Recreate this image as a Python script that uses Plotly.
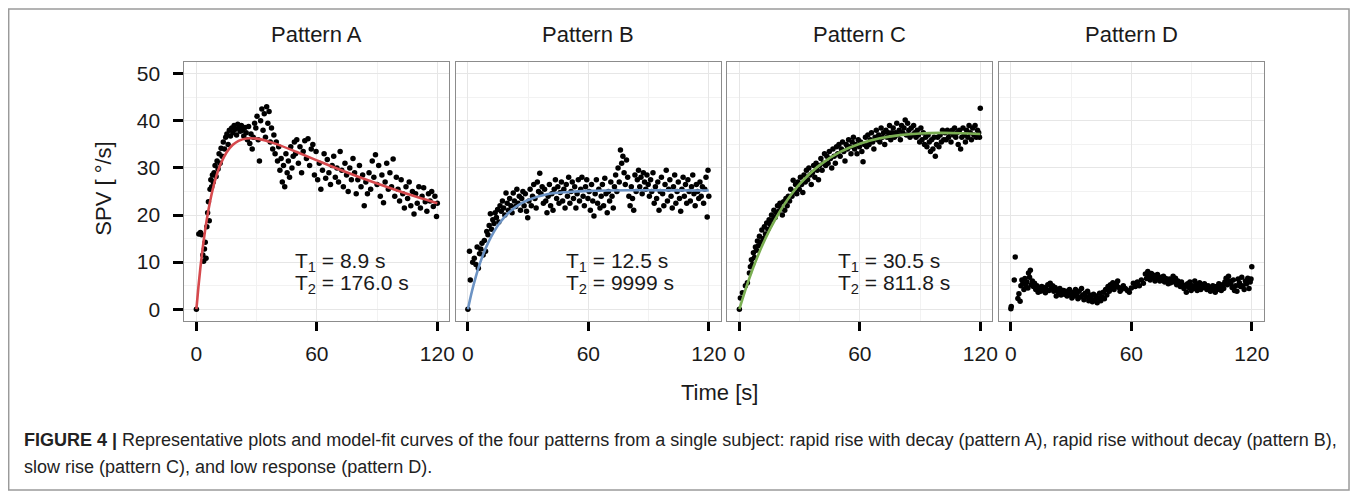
import plotly.graph_objects as go

# page is offset by the browser's default 8px body margin
OFF = 8
W, H = 1358 - OFF, 492 - OFF

panel_titles = ["Pattern A", "Pattern B", "Pattern C", "Pattern D"]
t1_labels = ["T<sub>1</sub> = 8.9 s", "T<sub>1</sub> = 12.5 s", "T<sub>1</sub> = 30.5 s", None]
t2_labels = ["T<sub>2</sub> = 176.0 s", "T<sub>2</sub> = 9999 s", "T<sub>2</sub> = 811.8 s", None]
x_ticks = [0, 60, 120]
y_ticks = [0, 10, 20, 30, 40, 50]
fit_colors = ["#d6494d", "#6c93c4", "#7aae52", None]

# ---------------- Pattern A ----------------
a_t = [0, 1.2, 2.0, 2.6, 3.2, 3.6, 4.0, 4.4, 4.8, 5.2, 5.6, 6.0, 6.4, 6.8, 7.2, 7.6, 8.0, 8.4, 8.8, 9.3,
       9.8, 10.3, 10.8, 11.3, 11.8, 12.3, 12.8, 13.4, 14.0, 14.6, 15.2, 15.8, 16.4, 17.0, 17.6, 18.2, 18.8,
       19.4, 20.0, 20.6, 21.2, 21.8, 22.4, 23.0, 23.6, 24.2, 24.8, 25.4, 26.0, 26.6, 27.2, 27.8, 28.4, 29.0,
       29.6, 30.2, 30.8, 31.4, 32.0, 32.6, 33.2, 33.8, 34.4, 35.0, 35.6, 36.2, 36.8, 37.4, 38.0, 38.6, 39.2,
       39.8, 40.4, 41.0, 41.6, 42.2, 42.8, 43.4, 44.0, 44.6, 45.2, 45.8, 46.4, 47.0, 47.6, 48.2, 48.8, 49.4,
       50.0, 50.8, 51.6, 52.4, 53.2, 54.0, 54.8, 55.6, 56.4, 57.2, 58.0, 58.8, 59.6, 60.4, 61.2, 62.0, 62.8,
       63.6, 64.4, 65.2, 66.0, 66.8, 67.6, 68.4, 69.2, 70.0, 70.8, 71.6, 72.4, 73.2, 74.0, 74.8, 75.6, 76.4,
       77.2, 78.0, 78.8, 79.6, 80.4, 81.2, 82.0, 82.8, 83.6, 84.4, 85.2, 86.0, 86.8, 87.6, 88.4, 89.2, 90.0,
       90.8, 91.6, 92.4, 93.2, 94.0, 94.8, 95.6, 96.4, 97.2, 98.0, 98.8, 99.6, 100.4, 101.2, 102.0, 102.8,
       103.6, 104.4, 105.2, 106.0, 106.8, 107.6, 108.4, 109.2, 110.0, 110.8, 111.6, 112.4, 113.2, 114.0,
       114.8, 115.6, 116.4, 117.2, 118.0, 118.8, 119.6, 120.0]
a_v = [0, 16.0, 16.3, 15.8, 11.5, 10.2, 12.8, 14.2, 10.8, 17.5, 20.5, 22.8, 18.8, 25.5, 27.5, 26.0, 28.5, 27.0,
       29.0, 30.5, 28.2, 31.5, 29.8, 33.0, 31.0, 34.2, 32.5, 35.5, 34.0, 36.5, 37.2, 35.0, 38.0, 36.8, 38.5,
       37.5, 39.0, 38.2, 37.0, 39.3, 38.5, 37.8, 39.0, 38.0, 36.8, 38.6, 37.5, 36.0, 38.8, 35.2, 37.2, 34.0,
       36.5, 39.5, 38.5, 41.0, 36.0, 31.5, 40.0, 42.5, 38.0, 41.5, 36.5, 43.0, 39.5, 42.0, 35.5, 38.5, 34.0,
       37.0, 33.0, 35.5, 31.5, 34.5, 29.5, 32.0, 27.0, 30.5, 26.0, 33.0, 29.0, 31.5, 28.0, 34.5, 30.0, 32.5,
       35.5, 33.0, 36.0, 31.0, 34.5, 29.0, 33.5, 35.8, 32.0, 36.2, 30.5, 34.0, 35.0, 28.5, 33.5, 27.5, 31.0,
       25.5, 29.5, 33.0, 27.8, 31.8, 29.0, 26.5, 30.5, 32.5, 28.0, 30.0, 27.0, 33.5, 29.5, 26.0, 31.0, 28.5,
       25.0, 30.0, 27.5, 32.0, 29.0, 24.5, 27.5, 30.5, 26.0, 28.5, 22.0, 27.0, 24.5, 29.0, 25.5, 31.5, 28.0,
       32.8, 26.5, 30.5, 24.0, 28.5, 22.6, 27.0, 31.0, 25.5, 29.0, 26.0, 31.9, 24.0, 28.0, 25.5, 23.0, 27.5,
       24.5, 21.5, 26.0, 23.5, 27.0, 22.0, 25.0, 20.2, 24.5, 22.5, 26.0, 21.5, 24.0, 25.8, 22.8, 20.8, 24.5,
       23.0, 25.0, 21.8, 24.0, 19.7, 22.5]
a_fit_t = [0, 1, 2, 3, 4, 5, 6, 8, 10, 12, 15, 18, 21, 25, 30, 35, 40, 50, 60, 70, 80, 90, 100, 110, 120]
a_fit_v = [0, 4.70, 8.85, 12.52, 15.75, 18.59, 21.09, 25.22, 28.37, 30.77, 33.29, 34.86, 35.76, 36.27, 36.23,
           35.75, 35.06, 33.37, 31.61, 29.88, 28.24, 26.69, 25.21, 23.82, 22.50]

# ---------------- Pattern B ----------------
b_t = [0, 0.8, 1.2, 2.4, 3.2, 4.0, 4.6, 5.2, 5.8, 6.4, 7.0, 7.6, 8.2, 8.8, 9.4, 10.0, 10.6, 11.2, 11.8, 12.4,
       13.0, 13.6, 14.2, 14.8, 15.4, 16.0, 16.6, 17.2, 17.8, 18.4, 19.0, 19.6, 20.2, 20.8, 21.4, 22.0, 22.6,
       23.2, 23.8, 24.4, 25.0, 25.6, 26.2, 26.8, 27.4, 28.0, 28.6, 29.2, 29.8, 30.4, 31.0, 31.6, 32.2, 32.8,
       33.4, 34.0, 34.6, 35.2, 35.8, 36.4, 37.0, 37.6, 38.2, 38.8, 39.4, 40.0, 40.6, 41.2, 41.8, 42.4, 43.0,
       43.6, 44.2, 44.8, 45.4, 46.0, 46.6, 47.2, 47.8, 48.4, 49.0, 49.6, 50.2, 50.8, 51.4, 52.0, 52.6, 53.2,
       53.8, 54.4, 55.0, 55.6, 56.2, 56.8, 57.4, 58.0, 58.6, 59.2, 59.8, 60.4, 61.0, 61.6, 62.2, 62.8, 63.4,
       64.0, 64.6, 65.2, 65.8, 66.4, 67.0, 67.6, 68.2, 68.8, 69.4, 70.0, 70.6, 71.2, 71.8, 72.4, 73.0, 73.6,
       74.2, 74.8, 75.4, 76.0, 76.6, 77.2, 77.8, 78.4, 79.0, 79.6, 80.2, 80.8, 81.4, 82.0, 82.6, 83.2, 83.8,
       84.4, 85.0, 85.6, 86.2, 86.8, 87.4, 88.0, 88.6, 89.2, 89.8, 90.4, 91.0, 91.6, 92.2, 92.8, 93.4, 94.0,
       94.6, 95.2, 95.8, 96.4, 97.0, 97.6, 98.2, 98.8, 99.4, 100.0, 100.6, 101.2, 101.8, 102.4, 103.0, 103.6,
       104.2, 104.8, 105.4, 106.0, 106.6, 107.2, 107.8, 108.4, 109.0, 109.6, 110.2, 110.8, 111.4, 112.0,
       112.6, 113.2, 113.8, 114.4, 115.0, 115.6, 116.2, 116.8, 117.4, 118.0, 118.6, 119.2, 119.6, 120.0]
b_v = [0, 12.3, 6.2, 10.0, 10.8, 9.5, 13.2, 8.7, 11.8, 12.8, 14.0, 11.5, 14.6, 12.3, 16.5, 15.8, 17.8, 20.3,
       17.0, 19.0, 18.2, 20.5, 19.5, 21.2, 18.5, 22.0, 20.8, 23.0, 21.5, 20.0, 24.7, 22.5, 21.0, 23.5, 22.0,
       20.5, 24.7, 23.0, 21.8, 25.5, 22.5, 24.0, 21.0, 23.5, 25.0, 22.0, 24.5, 20.8, 19.4, 23.0, 25.5, 22.0,
       24.0, 26.5, 23.5, 21.5, 27.0, 25.0, 28.9, 24.5, 26.0, 22.5, 25.5, 23.0, 20.5, 24.0, 26.5, 22.0, 24.5,
       21.0, 25.5, 27.5, 23.5, 26.0, 22.5, 24.8, 27.0, 23.0, 25.5, 21.5, 26.5, 24.0, 28.0, 22.5, 25.0, 27.0,
       23.5, 26.0, 21.5, 24.5, 27.5, 23.0, 25.5, 28.0, 24.0, 22.0, 26.0, 27.5, 23.5, 25.0, 21.0, 26.5, 23.0,
       19.8, 24.5, 27.5, 22.5, 25.5, 21.5, 24.0, 26.5, 22.0, 27.8, 24.5, 20.5, 25.0, 23.0, 27.0, 24.0, 21.5,
       26.0, 28.5, 25.0, 30.0, 27.0, 33.8, 31.0, 32.5, 29.0, 26.5, 31.7, 28.0, 24.0, 22.0, 26.0, 23.5, 21.0,
       28.5, 25.0, 27.5, 29.5, 26.0, 28.0, 24.5, 29.0, 27.0, 25.5, 28.5, 26.5, 24.0, 27.5, 25.0, 29.0, 22.5,
       26.0, 23.5, 27.0, 21.0, 25.0, 28.0, 24.5, 22.0, 26.5, 29.5, 23.0, 25.5, 27.5, 24.0, 21.5, 26.0, 28.5,
       22.5, 25.0, 27.0, 23.5, 20.8, 25.5, 28.0, 24.0, 26.5, 22.5, 27.5, 25.0, 23.0, 26.0, 28.5, 24.5, 22.0,
       26.5, 25.0, 23.5, 27.0, 24.0, 26.0, 22.5, 25.5, 28.0, 19.6, 29.5, 24.0]
b_fit_t = [0, 2, 4, 6, 8, 10, 13, 16, 20, 25, 30, 40, 50, 60, 80, 100, 120]
b_fit_v = [0, 3.77, 6.98, 9.72, 12.05, 14.04, 16.49, 18.41, 20.35, 22.05, 23.19, 24.46, 24.90, 25.14, 25.26,
           25.24, 25.20]

# ---------------- Pattern C ----------------
c_t = [0, 0.5, 1.5, 3.0, 4.0, 5.0, 5.5, 6.0, 6.5, 7.0, 7.5, 8.0, 8.5, 9.0, 9.5, 10.0, 10.6, 11.2, 11.8, 12.4,
       13.0, 13.6, 14.2, 14.8, 15.4, 16.0, 16.6, 17.2, 17.8, 18.4, 19.0, 19.6, 20.2, 20.8, 21.4, 22.0, 22.6,
       23.2, 23.8, 24.4, 25.0, 25.6, 26.2, 26.8, 27.4, 28.0, 28.6, 29.2, 29.8, 30.4, 31.0, 31.6, 32.2, 32.8,
       33.4, 34.0, 34.6, 35.2, 35.8, 36.4, 37.0, 37.6, 38.2, 38.8, 39.4, 40.0, 40.6, 41.2, 41.8, 42.4, 43.0,
       43.6, 44.2, 44.8, 45.4, 46.0, 46.6, 47.2, 47.8, 48.4, 49.0, 49.6, 50.2, 50.8, 51.4, 52.0, 52.6, 53.2,
       53.8, 54.4, 55.0, 55.6, 56.2, 56.8, 57.4, 58.0, 58.6, 59.2, 59.8, 60.4, 61.0, 61.6, 62.2, 62.8, 63.4,
       64.0, 64.6, 65.2, 65.8, 66.4, 67.0, 67.6, 68.2, 68.8, 69.4, 70.0, 70.6, 71.2, 71.8, 72.4, 73.0, 73.6,
       74.2, 74.8, 75.4, 76.0, 76.6, 77.2, 77.8, 78.4, 79.0, 79.6, 80.2, 80.8, 81.4, 82.0, 82.6, 83.2, 83.8,
       84.4, 85.0, 85.6, 86.2, 86.8, 87.4, 88.0, 88.6, 89.2, 89.8, 90.4, 91.0, 91.6, 92.2, 92.8, 93.4, 94.0,
       94.6, 95.2, 95.8, 96.4, 97.0, 97.6, 98.2, 98.8, 99.4, 100.0, 100.6, 101.2, 101.8, 102.4, 103.0, 103.6,
       104.2, 104.8, 105.4, 106.0, 106.6, 107.2, 107.8, 108.4, 109.0, 109.6, 110.2, 110.8, 111.4, 112.0,
       112.6, 113.2, 113.8, 114.4, 115.0, 115.6, 116.2, 116.8, 117.4, 118.0, 118.6, 119.2, 119.6, 120.0]
c_v = [0, 2.4, 3.5, 5.0, 5.6, 7.7, 9.0, 10.5, 9.5, 12.0, 11.0, 13.2, 12.5, 14.5, 13.5, 15.5, 14.2, 16.8, 15.0,
       17.5, 16.0, 18.3, 17.0, 19.0, 18.0, 20.0, 19.0, 21.0, 19.5, 20.5, 22.0, 20.8, 22.5, 21.5, 20.0, 22.8,
       21.0, 23.5, 22.0, 24.0, 23.0, 25.5, 24.0, 27.4, 25.0, 26.5, 24.5, 27.0, 25.5, 28.0, 26.5, 24.8, 28.5,
       27.0, 29.5, 27.5, 30.0, 28.5, 26.5, 29.0, 30.5, 28.0, 31.0, 29.5, 27.5, 30.5, 32.0, 29.5, 31.0, 33.0,
       30.5, 32.5, 31.0, 33.5, 32.0, 30.0, 34.0, 32.5, 31.0, 34.5, 33.0, 35.0, 32.5, 34.0, 35.5, 33.5, 31.5,
       35.0, 34.0, 36.0, 34.5, 33.0, 35.5, 36.5, 34.0, 35.0, 33.0, 36.0, 34.5, 35.5, 33.5, 31.3, 35.0, 36.5,
       34.5, 37.0, 35.0, 36.0, 37.5, 35.5, 34.0, 36.5, 38.0, 36.0, 37.0, 35.5, 38.5, 36.5, 37.5, 35.0, 38.0,
       36.5, 37.5, 39.0, 36.0, 37.5, 38.5, 36.5, 37.5, 39.5, 37.0, 38.0, 36.0, 39.0, 37.5, 38.5, 40.2, 37.0,
       39.5, 38.0, 36.5, 38.5, 37.0, 39.0, 37.5, 36.5, 38.0, 37.0, 35.5, 38.5, 36.0, 37.5, 35.0, 36.5, 34.5,
       37.0, 35.5, 33.5, 36.0, 34.0, 36.5, 32.5, 35.0, 36.5, 34.5, 37.0, 35.5, 38.0, 36.0, 37.5, 36.0, 38.0,
       36.5, 37.5, 35.5, 38.0, 37.0, 38.5, 36.5, 37.5, 35.0, 38.0, 34.0, 36.5, 38.5, 37.0, 35.5, 38.0, 36.5,
       39.0, 37.5, 36.0, 38.5, 37.0, 39.0, 36.5, 38.0, 37.5, 36.5, 42.7]
c_fit_t = [0, 3, 6, 10, 15, 20, 25, 30, 40, 50, 60, 70, 80, 90, 100, 110, 120]
c_fit_v = [0, 4.11, 7.80, 12.15, 16.78, 20.65, 23.87, 26.55, 30.60, 33.35, 35.15, 36.30, 36.98, 37.33, 37.44,
           37.38, 37.21]

# ---------------- Pattern D ----------------
d_t = [0, 0.2, 1.7, 2.2, 3.5, 4.0, 4.6, 5.0, 5.5, 6.0, 6.5, 7.0, 7.5, 8.0, 8.5, 8.8, 9.3, 9.7, 10.2, 10.7,
       11.2, 11.8, 12.4, 13.0, 13.6, 14.2, 14.8, 15.4, 16.0, 16.6, 17.2, 17.8, 18.4, 19.0, 19.6, 20.2, 20.8,
       21.4, 22.0, 22.6, 23.2, 23.8, 24.4, 25.0, 25.6, 26.2, 26.8, 27.4, 28.0, 28.6, 29.2, 29.8, 30.4, 31.0,
       31.6, 32.2, 32.8, 33.4, 34.0, 34.6, 35.2, 35.8, 36.4, 37.0, 37.6, 38.2, 38.8, 39.4, 40.0, 40.6, 41.2,
       41.8, 42.4, 43.0, 43.6, 44.2, 44.8, 45.4, 46.0, 46.6, 47.2, 47.8, 48.4, 49.0, 49.6, 50.2, 50.8, 51.4,
       52.0, 52.6, 53.2, 53.8, 54.4, 55.0, 56.0, 57.0, 58.0, 59.0, 60.0, 61.0, 62.0, 63.0, 64.0, 65.0, 66.0,
       67.0, 67.6, 68.2, 68.8, 69.4, 70.0, 70.6, 71.2, 71.8, 72.4, 73.0, 73.6, 74.2, 74.8, 75.4, 76.0, 76.6,
       77.2, 77.8, 78.4, 79.0, 79.6, 80.2, 80.8, 81.4, 82.0, 82.6, 83.2, 83.8, 84.4, 85.0, 85.6, 86.2, 86.8,
       87.4, 88.0, 88.6, 89.2, 89.8, 90.4, 91.0, 91.6, 92.2, 92.8, 93.4, 94.0, 94.6, 95.2, 95.8, 96.4, 97.0,
       97.6, 98.2, 98.8, 99.4, 100.0, 100.6, 101.2, 101.8, 102.4, 103.0, 103.6, 104.2, 104.8, 105.4, 106.0,
       106.6, 107.2, 107.8, 108.4, 109.0, 109.6, 110.2, 110.8, 111.4, 112.0, 112.6, 113.2, 113.8, 114.4,
       115.0, 115.6, 116.2, 116.8, 117.4, 118.0, 118.6, 119.2, 119.6, 120.0]
d_v = [0.1, 0.6, 6.2, 11.1, 2.3, 3.3, 1.7, 5.0, 6.2, 5.5, 4.2, 6.5, 5.0, 5.8, 4.5, 7.7, 6.8, 8.3, 5.2, 6.0,
       4.8, 5.5, 4.2, 5.0, 3.6, 4.5, 3.8, 4.8, 4.0, 4.6, 3.5, 4.2, 5.2, 4.0, 5.5, 4.5, 5.0, 3.8, 4.6, 2.8,
       4.2, 3.5, 4.4, 3.0, 3.6, 4.0, 3.2, 3.8, 2.8, 3.4, 4.2, 3.0, 2.4, 3.6, 2.8, 4.2, 3.2, 2.2, 3.8, 2.6,
       4.4, 3.0, 2.0, 3.4, 2.6, 3.8, 1.8, 3.0, 2.4, 1.6, 3.2, 2.0, 2.8, 1.4, 2.4, 3.4, 1.8, 2.6, 3.6, 2.2,
       4.2, 3.0, 4.8, 3.8, 5.2, 4.4, 5.6, 4.2, 4.8, 5.4, 6.0, 4.6, 3.8, 4.2, 5.0, 4.4, 4.0, 3.6, 4.5, 5.5,
       4.8, 5.8, 5.0, 6.2, 5.5, 7.5, 6.5, 8.0, 7.0, 6.2, 7.6, 6.8, 7.2, 6.0, 6.8, 7.4, 6.4, 6.0, 6.8, 6.2,
       7.0, 5.8, 6.5, 6.0, 5.4, 6.4, 5.6, 6.2, 7.0, 5.8, 6.6, 5.2, 6.0, 5.6, 4.8, 5.8, 5.2, 4.4, 5.0, 3.6,
       5.4, 4.6, 5.8, 4.0, 5.0, 4.4, 6.0, 5.2, 4.0, 4.8, 5.6, 4.2, 5.0, 4.6, 5.4, 4.8, 4.2, 5.0, 4.6, 3.8,
       4.4, 5.0, 4.2, 3.6, 4.8, 4.2, 5.4, 4.6, 4.0, 5.2, 4.4, 5.8, 6.6, 5.2, 7.0, 6.0, 5.4, 4.6, 6.2, 4.0,
       5.0, 3.8, 6.4, 5.6, 4.8, 6.8, 5.0, 4.2, 6.0, 5.4, 6.6, 4.4, 5.8, 6.4, 9.0]

points_t = [a_t, b_t, c_t, d_t]
points_v = [a_v, b_v, c_v, d_v]
fits_t = [a_fit_t, b_fit_t, c_fit_t, None]
fits_v = [a_fit_v, b_fit_v, c_fit_v, None]

# ---------------- layout geometry (page pixels) ----------------
panel_left = [185, 457.5, 730, 1002.5]
panel_w = 266
panel_top, panel_bot = 62, 321

def px(x):
    return (x - OFF) / W

def py(y):
    return 1 - (y - OFF) / H

FONT = "Liberation Sans, Arial, sans-serif"
text_col = "#1a1a1a"

fig = go.Figure()
for i in range(4):
    sfx = "" if i == 0 else str(i + 1)
    xa, ya = "x" + sfx, "y" + sfx
    fig.add_trace(go.Scatter(x=points_t[i], y=points_v[i], xaxis=xa, yaxis=ya, mode="markers",
                             marker=dict(color="black", size=5.5), showlegend=False))
    if fits_t[i] is not None:
        fig.add_trace(go.Scatter(x=fits_t[i], y=fits_v[i], xaxis=xa, yaxis=ya, mode="lines",
                                 line=dict(color=fit_colors[i], width=2.6, shape="spline"),
                                 hoverinfo="skip", showlegend=False))

    dom = [px(panel_left[i]), px(panel_left[i] + panel_w)]
    fig.layout["xaxis" + sfx] = dict(
        domain=dom, range=[-6, 126], anchor=ya, tickvals=x_ticks, ticks="outside", ticklen=9,
        tickwidth=3, tickcolor="black", showline=True, mirror=True, linecolor="#8c8c8c", linewidth=1,
        showgrid=True, gridcolor="#e6e6e6", gridwidth=1, zeroline=False,
        minor=dict(dtick=30, tick0=0, showgrid=True, gridcolor="#f2f2f2", ticks=""),
        tickfont=dict(family=FONT, size=21, color=text_col),
        ticklabelstandoff=5,
    )
    fig.layout["yaxis" + sfx] = dict(
        domain=[py(panel_bot), py(panel_top)], range=[-2.5, 52.5], anchor=xa, tickvals=y_ticks,
        ticks="outside" if i == 0 else "", ticklen=10, tickwidth=3, tickcolor="black",
        showticklabels=(i == 0), showline=True, mirror=True, linecolor="#8c8c8c", linewidth=1,
        showgrid=True, gridcolor="#e6e6e6", gridwidth=1, zeroline=False,
        minor=dict(dtick=5, tick0=0, showgrid=True, gridcolor="#f2f2f2", ticks=""),
        tickfont=dict(family=FONT, size=21, color=text_col),
        ticklabelstandoff=9,
    )

annotations = []
font_title = dict(family=FONT, size=22, color=text_col)
font_ann = dict(family=FONT, size=21, color=text_col)
for i in range(4):
    annotations.append(dict(text=panel_titles[i], xref="paper", yref="paper",
                            x=px(panel_left[i] + panel_w / 2), y=py(35), showarrow=False,
                            xanchor="center", yanchor="middle", font=font_title))
    sfx = "" if i == 0 else str(i + 1)
    if t1_labels[i] is not None:
        annotations.append(dict(text=t1_labels[i], xref="x" + sfx, yref="y" + sfx, x=48, y=10.0,
                                showarrow=False, xanchor="left", yanchor="middle", font=font_ann))
        annotations.append(dict(text=t2_labels[i], xref="x" + sfx, yref="y" + sfx, x=48, y=5.4,
                                showarrow=False, xanchor="left", yanchor="middle", font=font_ann))

annotations.append(dict(text="SPV [ °/s]", xref="paper", yref="paper", x=px(103), y=py(189),
                        textangle=-90, showarrow=False, xanchor="center", yanchor="middle", font=font_title))
annotations.append(dict(text="Time [s]", xref="paper", yref="paper", x=px(722), y=py(392),
                        showarrow=False, xanchor="center", yanchor="middle", font=font_title))

cap_font = dict(family=FONT, size=18, color="#222222")
annotations.append(dict(
    text="<b>FIGURE 4 |</b> Representative plots and model-fit curves of the four patterns from a single subject: "
         "rapid rise with decay (pattern A), rapid rise without decay (pattern B),",
    xref="paper", yref="paper", x=px(22), y=py(440), showarrow=False, xanchor="left", yanchor="middle",
    font=cap_font))
annotations.append(dict(
    text="slow rise (pattern C), and low response (pattern D).",
    xref="paper", yref="paper", x=px(22), y=py(467), showarrow=False, xanchor="left", yanchor="middle",
    font=cap_font))

fig.update_layout(
    width=W, height=H, margin=dict(l=0, r=0, t=0, b=0),
    paper_bgcolor="white", plot_bgcolor="white",
    annotations=annotations,
    shapes=[dict(type="rect", xref="paper", yref="paper", x0=px(8.7), x1=px(1354), y0=py(490), y1=py(9),
                 line=dict(color="#9a9a9a", width=1.5), fillcolor="rgba(0,0,0,0)", layer="below")],
)

fig.write_html("out.html")
